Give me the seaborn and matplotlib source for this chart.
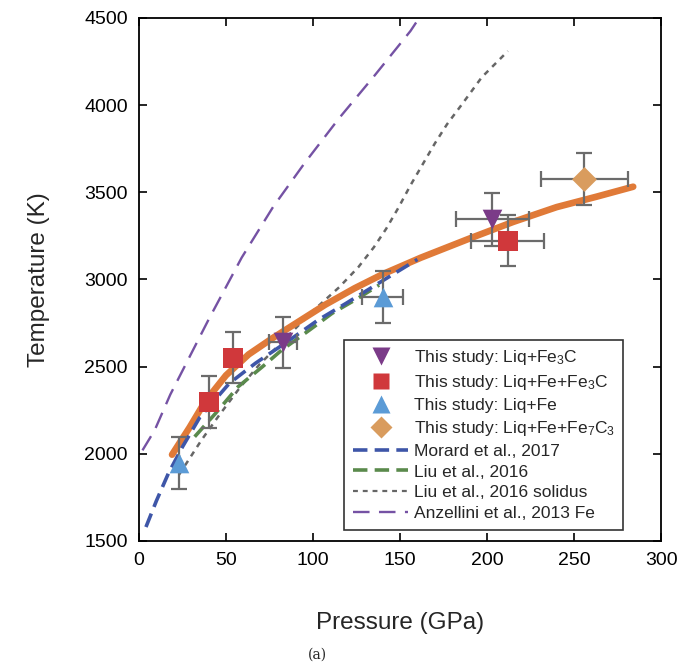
import matplotlib
matplotlib.use("Agg")
import matplotlib.pyplot as plt
from matplotlib.lines import Line2D
import seaborn as sns
import pandas as pd

# --- datos ---
# puntos experimentales: presion (GPa), temperatura (K), errores
fe3c_p = [83, 203]
fe3c_t = [2640, 3345]
fe3c_perr = [8, 21]
fe3c_terr = [147, 152]

fefe3c_p = [40, 54, 212]
fefe3c_t = [2297, 2552, 3222]
fefe3c_perr = [0, 3, 21]
fefe3c_terr = [150, 146, 147]

fe_p = [23, 140]
fe_t = [1947, 2900]
fe_perr = [0, 12]
fe_terr = [150, 150]

fe7c3_p = [256]
fe7c3_t = [3575]
fe7c3_perr = [25]
fe7c3_terr = [150]

# curvas
ajuste_p = [19, 29, 38, 50, 63, 77, 92, 107, 124, 140, 162, 190, 215, 240, 263, 284]
ajuste_t = [1995, 2150, 2300, 2450, 2570, 2665, 2760, 2855, 2950, 3030, 3125, 3235,
            3330, 3415, 3475, 3532]

morard_p = [4, 10, 17, 25, 35, 52, 67, 84, 103, 119, 142, 160]
morard_t = [1580, 1730, 1890, 2040, 2210, 2405, 2520, 2635, 2768, 2863, 3005, 3115]

liu_p = [32, 44, 57, 71, 82, 98, 111, 126, 138]
liu_t = [2098, 2232, 2385, 2500, 2595, 2710, 2806, 2893, 2968]

solidus_p = [23, 36, 46, 58, 69, 82, 100, 115, 126, 135, 142, 149, 156, 163, 170,
             177, 186, 197, 212]
solidus_t = [1880, 2080, 2220, 2380, 2510, 2640, 2820, 2955, 3070, 3185, 3290, 3410,
             3540, 3660, 3780, 3890, 4010, 4160, 4310]

anzellini_p = [2, 9, 18, 29, 40, 59, 77, 95, 115, 135, 156, 161]
anzellini_t = [2020, 2135, 2340, 2555, 2770, 3125, 3415, 3665, 3925, 4165, 4425, 4500]

sns.set_style("ticks")
plt.rcParams["font.family"] = ["Liberation Sans", "DejaVu Sans"]
plt.rcParams["mathtext.default"] = "regular"

fig = plt.figure(figsize=(6.97, 6.65), dpi=100)
ax = fig.add_axes([0.1994, 0.1865, 0.7490, 0.7865])

gris = "#6b6b6b"

# curvas de referencia
sns.lineplot(x=anzellini_p, y=anzellini_t, ax=ax, color="#7552a4", lw=1.7,
             linestyle=(0, (7, 4)), sort=False, zorder=2)
sns.lineplot(x=solidus_p, y=solidus_t, ax=ax, color="#666666", lw=1.8,
             linestyle=(0, (2.2, 2.2)), sort=False, zorder=2)
sns.lineplot(x=liu_p, y=liu_t, ax=ax, color="#5a8a4c", lw=2.6,
             linestyle=(0, (4, 2)), sort=False, zorder=2)
sns.lineplot(x=ajuste_p, y=ajuste_t, ax=ax, color="#e07a38", lw=4.8,
             sort=False, zorder=2.5)
sns.lineplot(x=morard_p, y=morard_t, ax=ax, color="#3e56a8", lw=2.6,
             linestyle=(0, (4, 2)), sort=False, zorder=3)

# barras de error y marcadores
grupos = [
    (fe3c_p, fe3c_t, fe3c_perr, fe3c_terr, "v", "#7b3b88", 200),
    (fefe3c_p, fefe3c_t, fefe3c_perr, fefe3c_terr, "s", "#d0383b", 210),
    (fe_p, fe_t, fe_perr, fe_terr, "^", "#5b9bd6", 200),
    (fe7c3_p, fe7c3_t, fe7c3_perr, fe7c3_terr, "D", "#d99c5e", 160),
]
for p, t, perr, terr, m, c, s in grupos:
    ax.errorbar(p, t, xerr=perr, yerr=terr, fmt="none", ecolor=gris,
                elinewidth=1.6, capsize=6, capthick=1.6, zorder=4)
    df = pd.DataFrame({"P": p, "T": t})
    sns.scatterplot(data=df, x="P", y="T", ax=ax, marker=m, color=c, s=s,
                    linewidth=0, zorder=5)

ax.set_xlim(0, 300)
ax.set_ylim(1500, 4500)
ax.set_xticks(range(0, 301, 50))
ax.set_yticks(range(1500, 4501, 500))
ax.tick_params(direction="in", length=6, width=1.2, top=True, right=True,
               labelsize=14, pad=8, colors="black")
for lado in ax.spines.values():
    lado.set_linewidth(1.3)
    lado.set_color("black")
ax.set_xlabel("Pressure (GPa)", fontsize=17.5, labelpad=31)
ax.set_ylabel("Temperature (K)", fontsize=17.5, labelpad=25)

manejadores = [
    Line2D([], [], ls="none", marker="v", ms=13, color="#7b3b88", mec="none"),
    Line2D([], [], ls="none", marker="s", ms=12, color="#d0383b", mec="none"),
    Line2D([], [], ls="none", marker="^", ms=13, color="#5b9bd6", mec="none"),
    Line2D([], [], ls="none", marker="D", ms=11, color="#d99c5e", mec="none"),
    Line2D([], [], color="#3e56a8", lw=2.6, ls=(0, (4, 2))),
    Line2D([], [], color="#5a8a4c", lw=2.6, ls=(0, (4, 2))),
    Line2D([], [], color="#666666", lw=1.6, ls=(0, (2.2, 2.2))),
    Line2D([], [], color="#7552a4", lw=1.7, ls=(0, (7, 4))),
]
etiquetas = [
    "This study: Liq+Fe$_3$C",
    "This study: Liq+Fe+Fe$_3$C",
    "This study: Liq+Fe",
    "This study: Liq+Fe+Fe$_7$C$_3$",
    "Morard et al., 2017",
    "Liu et al., 2016",
    "Liu et al., 2016 solidus",
    "Anzellini et al., 2013 Fe",
]
leg = ax.legend(manejadores, etiquetas, loc="lower left",
                bbox_to_anchor=(0.393, 0.021), fontsize=12.5, frameon=True,
                fancybox=False, handlelength=3.2, handletextpad=0.3,
                labelspacing=0.33, borderpad=0.5, borderaxespad=0)
leg.get_frame().set_edgecolor("black")
leg.get_frame().set_linewidth(1.2)

fig.text(0.455, 0.016, "(a)", fontsize=10, family="DejaVu Serif",
         ha="center", va="center")

fig.savefig("out.png", dpi=100)
